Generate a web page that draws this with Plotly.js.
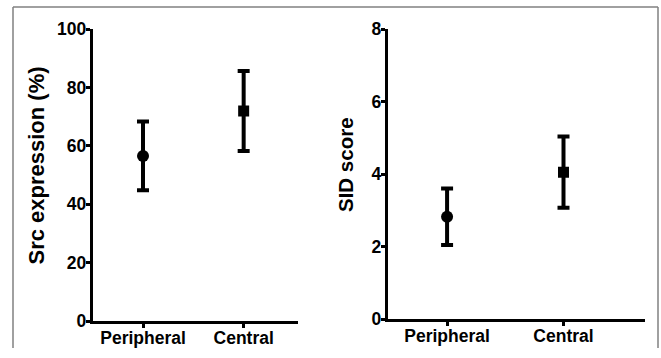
<!DOCTYPE html>
<html>
<head>
<meta charset="utf-8">
<script src="https://cdn.plot.ly/plotly-3.0.1.min.js"></script>
<style>html,body{margin:0;padding:0;background:#fff;}#chart{width:661px;height:358px;}</style>
</head>
<body>
<div id="chart"></div>
<script>
const categories = ['Peripheral', 'Central'];
const srcMean = [56.6, 72.0];
const srcErr = [11.8, 13.7];
const sidMean = [2.83, 4.06];
const sidErr = [0.78, 0.98];
const symbols = ['circle', 'square'];
const srcTicks = [0, 20, 40, 60, 80, 100];
const sidTicks = [0, 2, 4, 6, 8];
const srcTitle = 'Src expression (%)';
const sidTitle = 'SID score';

const W = 661, H = 358;
const fx = p => p / W;
const fy = p => 1 - p / H;
const F = {family: 'Liberation Sans, Arial, sans-serif', color: '#000', weight: 'bold'};

const errStyle = {type: 'data', visible: true, thickness: 4, width: 6, color: '#000'};

const traces = [
  {x: [0, 1], y: srcMean, xaxis: 'x', yaxis: 'y', type: 'scatter', mode: 'markers',
   marker: {symbol: symbols, size: [12, 11], color: '#000', opacity: 1, line: {width: 0}},
   error_y: Object.assign({array: srcErr}, errStyle), hoverinfo: 'none'},
  {x: [0, 1], y: sidMean, xaxis: 'x2', yaxis: 'y2', type: 'scatter', mode: 'markers',
   marker: {symbol: symbols, size: [12, 11], color: '#000', opacity: 1, line: {width: 0}},
   error_y: Object.assign({array: sidErr}, errStyle), hoverinfo: 'none'}
];

const axisCommon = {showline: true, linecolor: '#000', linewidth: 3, showgrid: false, zeroline: false,
  ticks: 'outside', ticklen: 4, tickwidth: 3, tickcolor: '#000', fixedrange: true};

const layout = {
  width: W, height: H, margin: {l: 0, r: 0, t: 0, b: 0},
  paper_bgcolor: '#fff', plot_bgcolor: '#fff', showlegend: false,
  font: F,
  xaxis: Object.assign({}, axisCommon, {domain: [fx(92.7), fx(298)], range: [-0.5, 1.54],
    tickmode: 'array', tickvals: [0, 1], ticktext: categories, tickfont: Object.assign({}, F, {size: 17.5}),
    ticklabelstandoff: -5, anchor: 'y'}),
  yaxis: Object.assign({}, axisCommon, {domain: [fy(321), fy(29.3)], range: [0, 100],
    tickmode: 'array', tickvals: srcTicks, tickfont: Object.assign({}, F, {size: 17.5}), ticklabelstandoff: -4, anchor: 'x'}),
  xaxis2: Object.assign({}, axisCommon, {domain: [fx(387.7), fx(645)], range: [-0.51, 1.70],
    tickmode: 'array', tickvals: [0, 1], ticktext: categories, tickfont: Object.assign({}, F, {size: 17.5}),
    ticklabelstandoff: -5, anchor: 'y2'}),
  yaxis2: Object.assign({}, axisCommon, {domain: [fy(319.3), fy(29.3)], range: [0, 8],
    tickmode: 'array', tickvals: sidTicks, tickfont: Object.assign({}, F, {size: 17.5}), ticklabelstandoff: -4, anchor: 'x2'}),
  annotations: [
    {text: srcTitle, xref: 'paper', yref: 'paper', x: fx(36), y: fy(165.5), xanchor: 'center', yanchor: 'middle',
     textangle: -90, showarrow: false, font: Object.assign({}, F, {size: 22})},
    {text: sidTitle, xref: 'paper', yref: 'paper', x: fx(345), y: fy(165), xanchor: 'center', yanchor: 'middle',
     textangle: -90, showarrow: false, font: Object.assign({}, F, {size: 20.5})}
  ],
  shapes: [
    {type: 'line', xref: 'paper', yref: 'paper', x0: fx(13), x1: fx(13), y0: fy(348), y1: fy(7), line: {color: '#808080', width: 1.5}},
    {type: 'line', xref: 'paper', yref: 'paper', x0: fx(13), x1: fx(658), y0: fy(7), y1: fy(7), line: {color: '#808080', width: 1.5}},
    {type: 'line', xref: 'paper', yref: 'paper', x0: fx(658), x1: fx(658), y0: fy(7), y1: fy(348), line: {color: '#808080', width: 1.5}}
  ]
};

Plotly.newPlot('chart', traces, layout, {staticPlot: true, displayModeBar: false});
</script>
</body>
</html>
